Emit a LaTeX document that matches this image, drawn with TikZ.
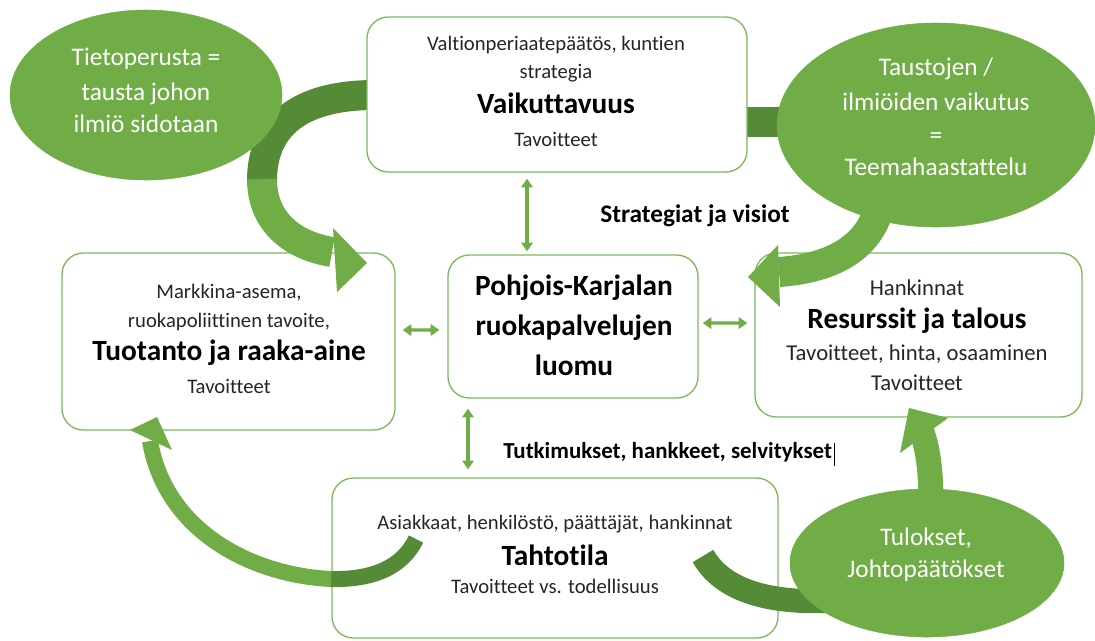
\documentclass[tikz,border=0pt]{standalone}
\usepackage{fontspec}
\setmainfont{Carlito}[Ligatures=NoCommon]
\usetikzlibrary{arrows.meta,shapes.geometric}
\definecolor{lg}{HTML}{70AD47}
\definecolor{dg}{HTML}{558B36}
\definecolor{bx}{HTML}{7DB95B}
\definecolor{tx}{HTML}{262626}
\tikzset{
 box/.style={draw=bx, line width=1pt, rounded corners=16pt, fill=white, inner sep=0pt},
 ell/.style={ellipse, fill=lg, draw=lg, inner sep=0pt},
 sm/.style={anchor=base, inner sep=0pt, text=tx, font=\fontsize{15.5}{18}\selectfont},
 smr/.style={anchor=base, inner sep=0pt, text=tx, font=\fontsize{17}{20}\selectfont},
 hd/.style={anchor=base, inner sep=0pt, text=black, font=\bfseries\fontsize{22}{26}\selectfont},
 et/.style={anchor=base, inner sep=0pt, text=white, font=\fontsize{19}{22}\selectfont},
 laba/.style={anchor=base west, inner sep=0pt, text=black, font=\bfseries\fontsize{19}{22}\selectfont},
 labb/.style={anchor=base west, inner sep=0pt, text=black, font=\bfseries\fontsize{17.2}{20}\selectfont},
 dbl/.style={draw=lg, line width=2.4pt, {Triangle[length=6.5pt,width=8.5pt]}-{Triangle[length=6.5pt,width=8.5pt]}},
 dband/.style={draw=dg, line cap=butt},
 lband/.style={draw=lg, line cap=butt},
}
\begin{document}
\begin{tikzpicture}[x=0.75pt,y=-0.75pt]
\useasboundingbox (0,0) rectangle (1095,640);
% boxes below the arrows
\node[box, minimum width=249.75pt, minimum height=132.75pt] (left) at (228.5,341.5) {};
\node[box, minimum width=187.5pt, minimum height=107.25pt] (mid) at (573,326.5) {};
\node[box, minimum width=245.25pt, minimum height=123pt] (right) at (918.5,335) {};
\node[box, minimum width=334.5pt, minimum height=120pt] (bot) at (555,558) {};
% arrow 1 (top box -> left box)
\draw[dband, line width=22.5pt] (375,95) .. controls (300,95) and (262,125) .. (262,181);
\draw[lband, line width=22.5pt] (262,179) .. controls (262,220) and (290,245) .. (332,252);
\fill[lg] (333,228) -- (367,263) -- (337,292) -- cycle;
% arrow 2 (top box -> right box)
\draw[dband, line width=22.5pt] (740,122) -- (830,122);
\draw[lband, line width=22.5pt] (882,190) .. controls (878,245) and (835,268) .. (779,272);
\fill[lg] (778,245) -- (748,277) -- (780,307) -- cycle;
% arrow 3 (bottom box -> left box)
\draw[dband, line width=12pt] (416,539) .. controls (402,568) and (372,580) .. (330,579);
\draw[lband, line width=12pt] (331,579) .. controls (250,575) and (165,530) .. (150,441);
\fill[lg] (130,430) -- (157,417) -- (172,450) -- cycle;
% arrow 4 (bottom box -> right box)
\draw[dband, line width=18pt] (703,556) .. controls (725,595) and (780,605) .. (845,600);
\draw[lband, line width=18.75pt] (931,505) .. controls (931,470) and (928,450) .. (922,432);
\fill[lg] (909,408) -- (948,418) -- (900,453) -- cycle;
% top box
\node[box, minimum width=285pt, minimum height=116.25pt] (top) at (557,94.5) {};
% ellipses
\node[ell, minimum width=204pt, minimum height=127.5pt] (e1) at (146,95) {};
\node[ell, minimum width=238.5pt, minimum height=153pt] (e2) at (936,125) {};
\node[ell, minimum width=205.5pt, minimum height=111pt] (e3) at (927,563) {};
% double arrows
\draw[dbl] ([xshift=-22.5pt,yshift=-4.5pt]top.south) -- ([xshift=-34.5pt,yshift=2.25pt]mid.north);
\draw[dbl] ([xshift=5.25pt,yshift=8.6pt]left.east) -- ([xshift=-6pt,yshift=-2.6pt]mid.west);
\draw[dbl] ([xshift=3pt,yshift=2.6pt]mid.east) -- ([xshift=-5.25pt,yshift=9pt]right.west);
\draw[dbl] ([xshift=-78.75pt,yshift=-7.5pt]mid.south) -- ([xshift=-65.25pt,yshift=6pt]bot.north);
% texts: top box
\node[sm] (t1) at (556,50) {Valtionperiaatepäätös, kuntien};
\node[sm] (t2) at (556,78) {strategia};
\node[hd] (t3) at (556,113) {Vaikuttavuus};
\node[sm] (t4) at (556,146) {Tavoitteet};
% left box
\node[sm] (l1) at (229,298) {Markkina-asema,};
\node[sm] (l2) at (229,327) {ruokapoliittinen tavoite,};
\node[hd] (l3) at (229,360) {Tuotanto ja raaka-aine};
\node[sm] (l4) at (229,393) {Tavoitteet};
% middle box
\node[hd] (m1) at (574,295) {Pohjois-Karjalan};
\node[hd] (m2) at (574,335) {ruokapalvelujen};
\node[hd] (m3) at (574,375) {luomu};
% right box
\node[smr] (r1) at (917,295) {Hankinnat};
\node[hd] (r2) at (917,328) {Resurssit ja talous};
\node[smr] (r3) at (917,360) {Tavoitteet, hinta, osaaminen};
\node[smr] (r4) at (917,390) {Tavoitteet};
% bottom box
\node[sm] (b1) at (555,529) {Asiakkaat, henkilöstö, päättäjät, hankinnat};
\node[hd] (b2) at (555,565) {Tahtotila};
\node[sm] (b3) at (555,593) {Tavoitteet vs. todellisuus};
% ellipse texts
\node[et] (e1a) at (146,65) {Tietoperusta =};
\node[et] (e1b) at (146,100) {tausta johon};
\node[et] (e1c) at (146,132) {ilmiö sidotaan};
\node[et] (e2a) at (936,75) {Taustojen /};
\node[et] (e2b) at (936,110) {ilmiöiden vaikutus};
\node[et] (e2c) at (936,143) {=};
\node[et] (e2d) at (936,175) {Teemahaastattelu};
\node[et] (e3a) at (926,545) {Tulokset,};
\node[et] (e3b) at (926,577) {Johtopäätökset};
% labels
\node[laba] (sv) at (600,222) {Strategiat ja visiot};
\node[labb] (tut) at (503,458) {Tutkimukset, hankkeet, selvitykset};
\draw[line width=0.8pt] ([xshift=1.5pt,yshift=-6pt]tut.base east) -- ([xshift=1.5pt,yshift=11.25pt]tut.base east);
\end{tikzpicture}
\end{document}
